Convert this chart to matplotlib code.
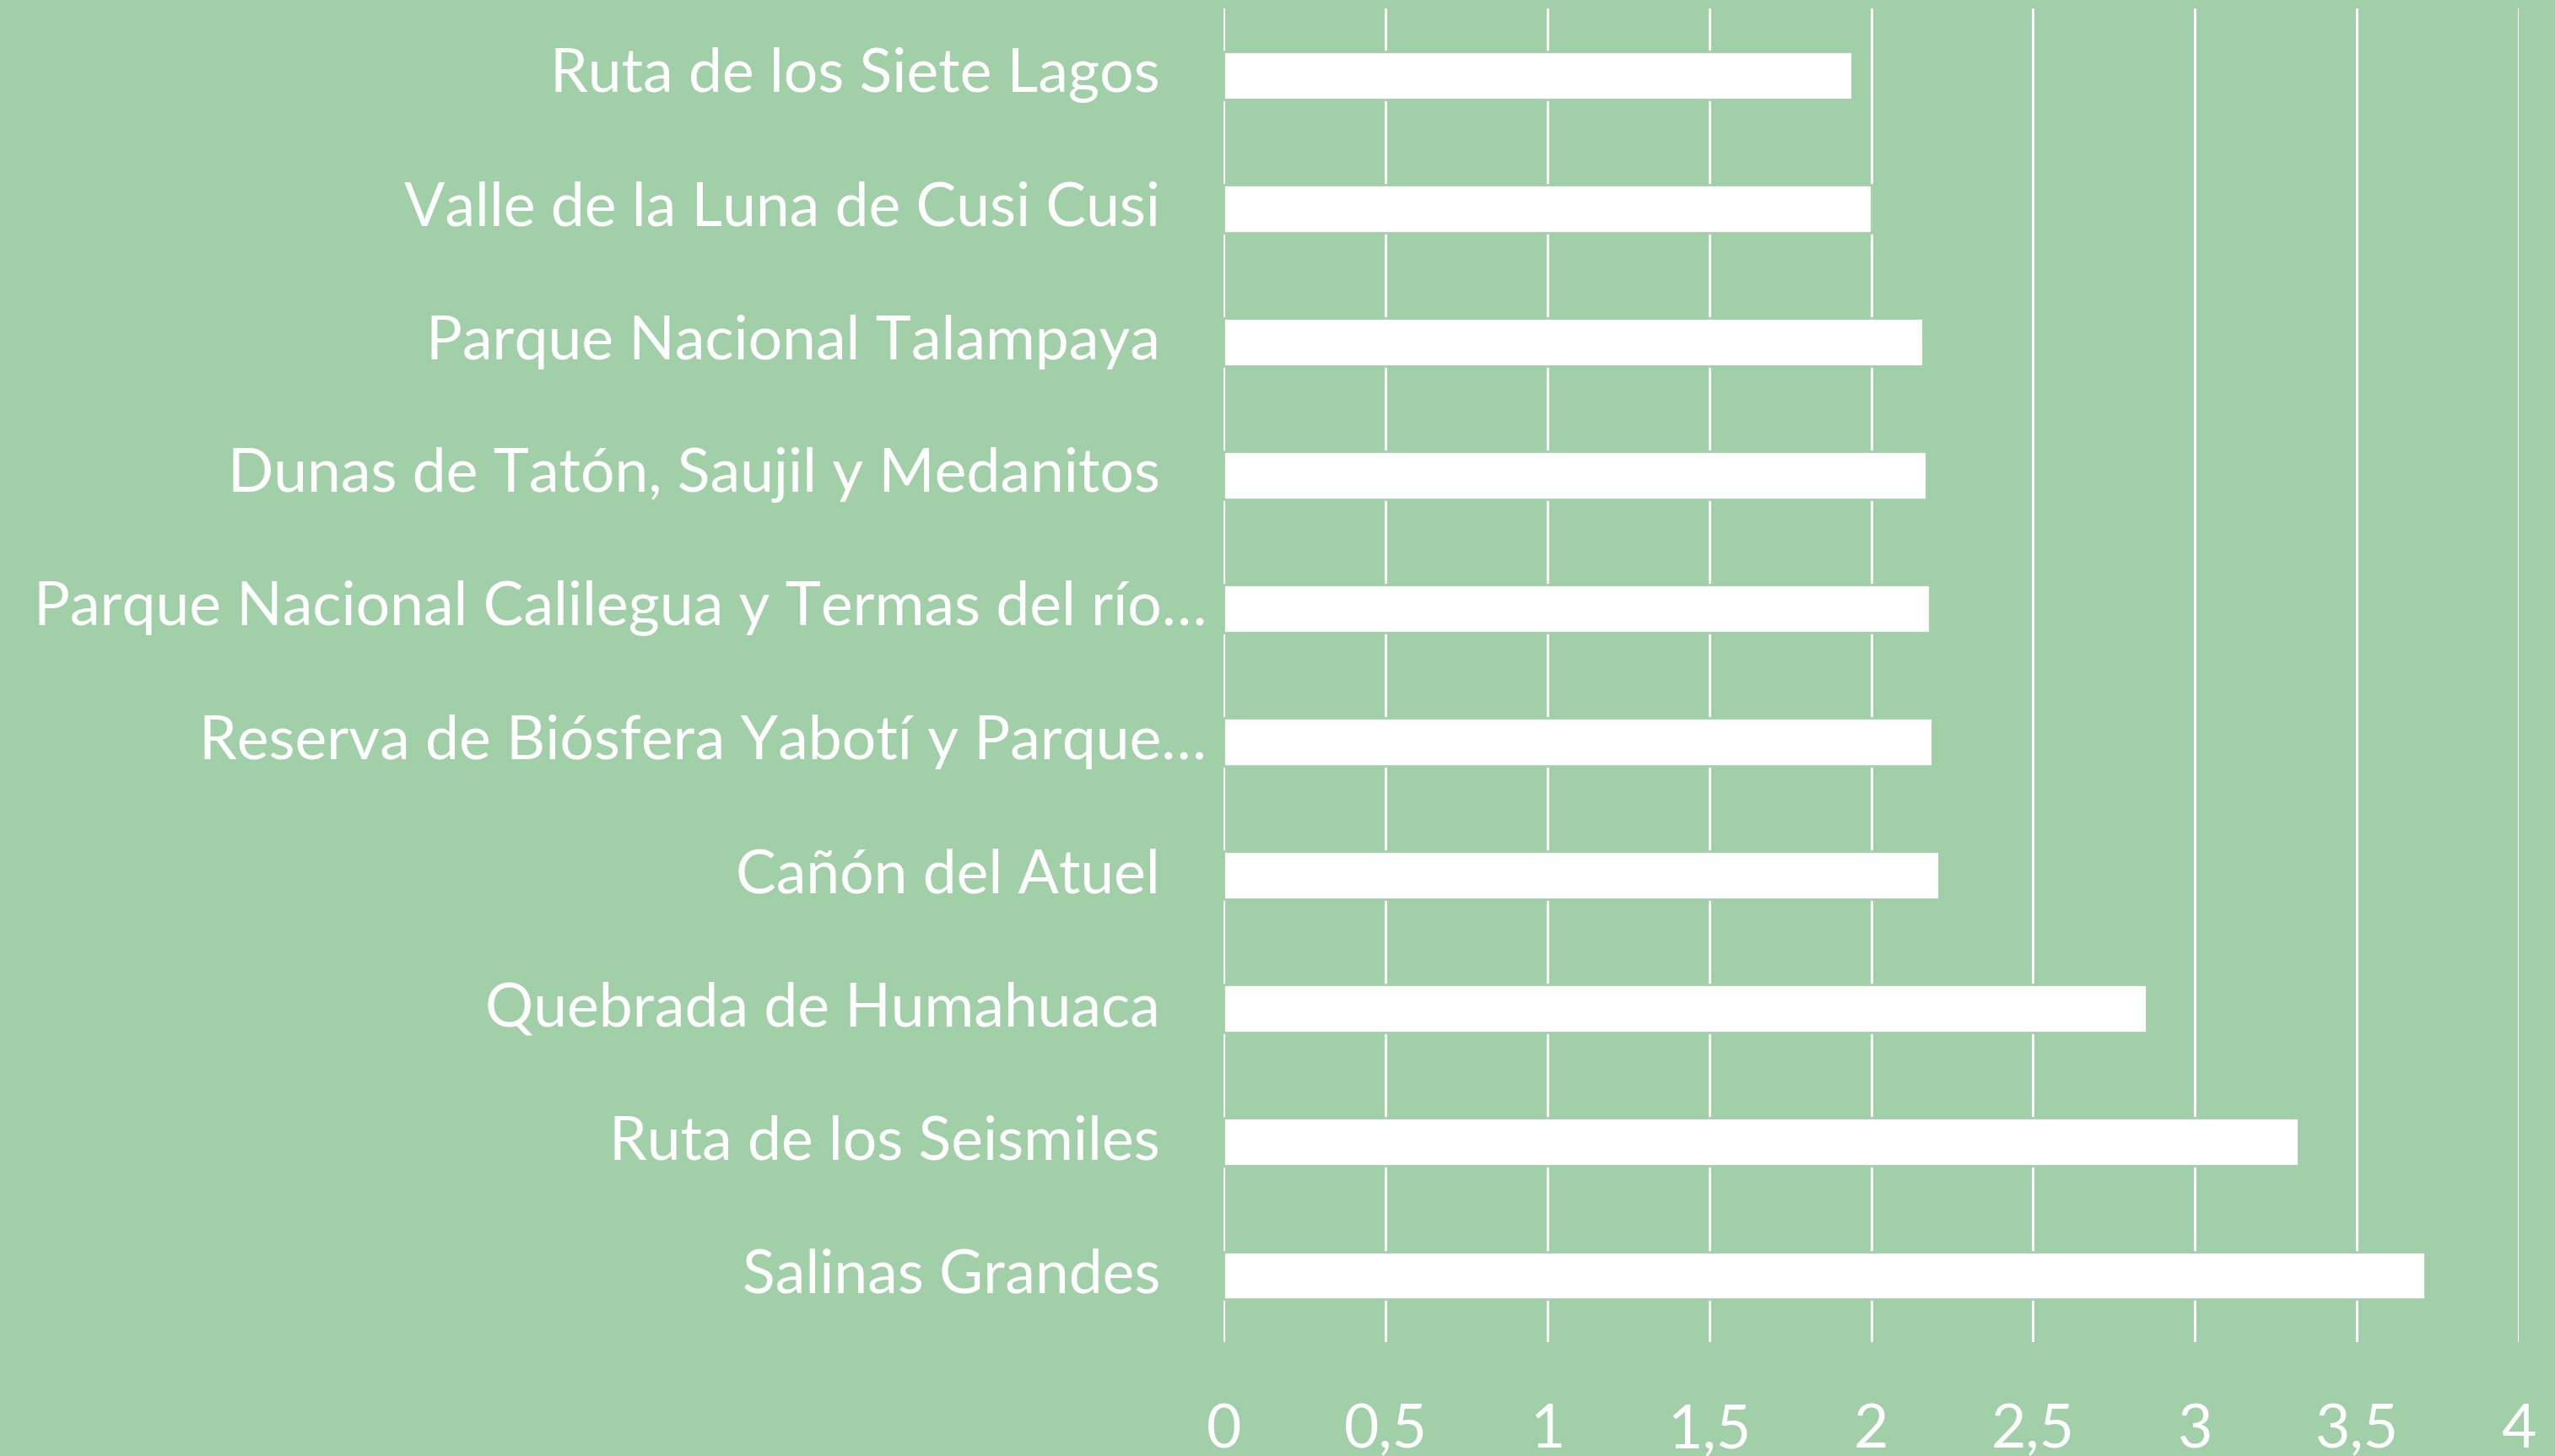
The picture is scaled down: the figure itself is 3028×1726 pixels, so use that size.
import matplotlib
matplotlib.use('Agg')
import matplotlib.pyplot as plt
import matplotlib.transforms as mtransforms

plt.rcParams['font.family'] = ['Lato', 'DejaVu Sans']

# 数据：类别（从上到下）与数值
destinos = [
    'Ruta de los Siete Lagos',
    'Valle de la Luna de Cusi Cusi',
    'Parque Nacional Talampaya',
    'Dunas de Tatón, Saujil y Medanitos',
    'Parque Nacional Calilegua y Termas del río…',
    'Reserva de Biósfera Yabotí y Parque…',
    'Cañón del Atuel',
    'Quebrada de Humahuaca',
    'Ruta de los Seismiles',
    'Salinas Grandes',
]
valores = [1.94, 2.0, 2.16, 2.17, 2.18, 2.19, 2.21, 2.85, 3.32, 3.71]
x_ticks = [0, 0.5, 1, 1.5, 2, 2.5, 3, 3.5, 4]
x_labels = ['0', '0,5', '1', '1,5', '2', '2,5', '3', '3,5', '4']

BG = '#a1cfa8'
FS = 51.5

fig = plt.figure(figsize=(30.28, 17.26), dpi=100, facecolor=BG)
ax = fig.add_axes([0.4789, 0.0782, 0.5069, 0.9160])
ax.set_facecolor(BG)

pos = list(range(len(destinos)))
ax.barh(pos, valores, height=0.36, color='white', edgecolor=BG, linewidth=2, zorder=3)

ax.set_xlim(0, 4)
ax.set_ylim(len(destinos) - 0.5, -0.5)
ax.set_xticks(x_ticks)
ax.set_xticklabels(x_labels, fontsize=FS, color='white')
ax.tick_params(axis='x', length=0, pad=52)
ax.grid(axis='x', color='white', linewidth=2.2, zorder=1)
ax.set_yticks([])
for s in ax.spines.values():
    s.set_visible(False)
ax.axvline(0, color='white', linewidth=2.2, zorder=2)

# 类别标签：被截断的标签更靠近坐标轴
for i, nombre in enumerate(destinos):
    off = -20 if nombre.endswith('…') else -75
    tr = ax.get_yaxis_transform() + mtransforms.ScaledTranslation(off / 100, 0, fig.dpi_scale_trans)
    ax.text(0, i, nombre, transform=tr, ha='right', va='center', fontsize=FS, color='white')

fig.savefig('out.png', dpi=100, facecolor=BG)
